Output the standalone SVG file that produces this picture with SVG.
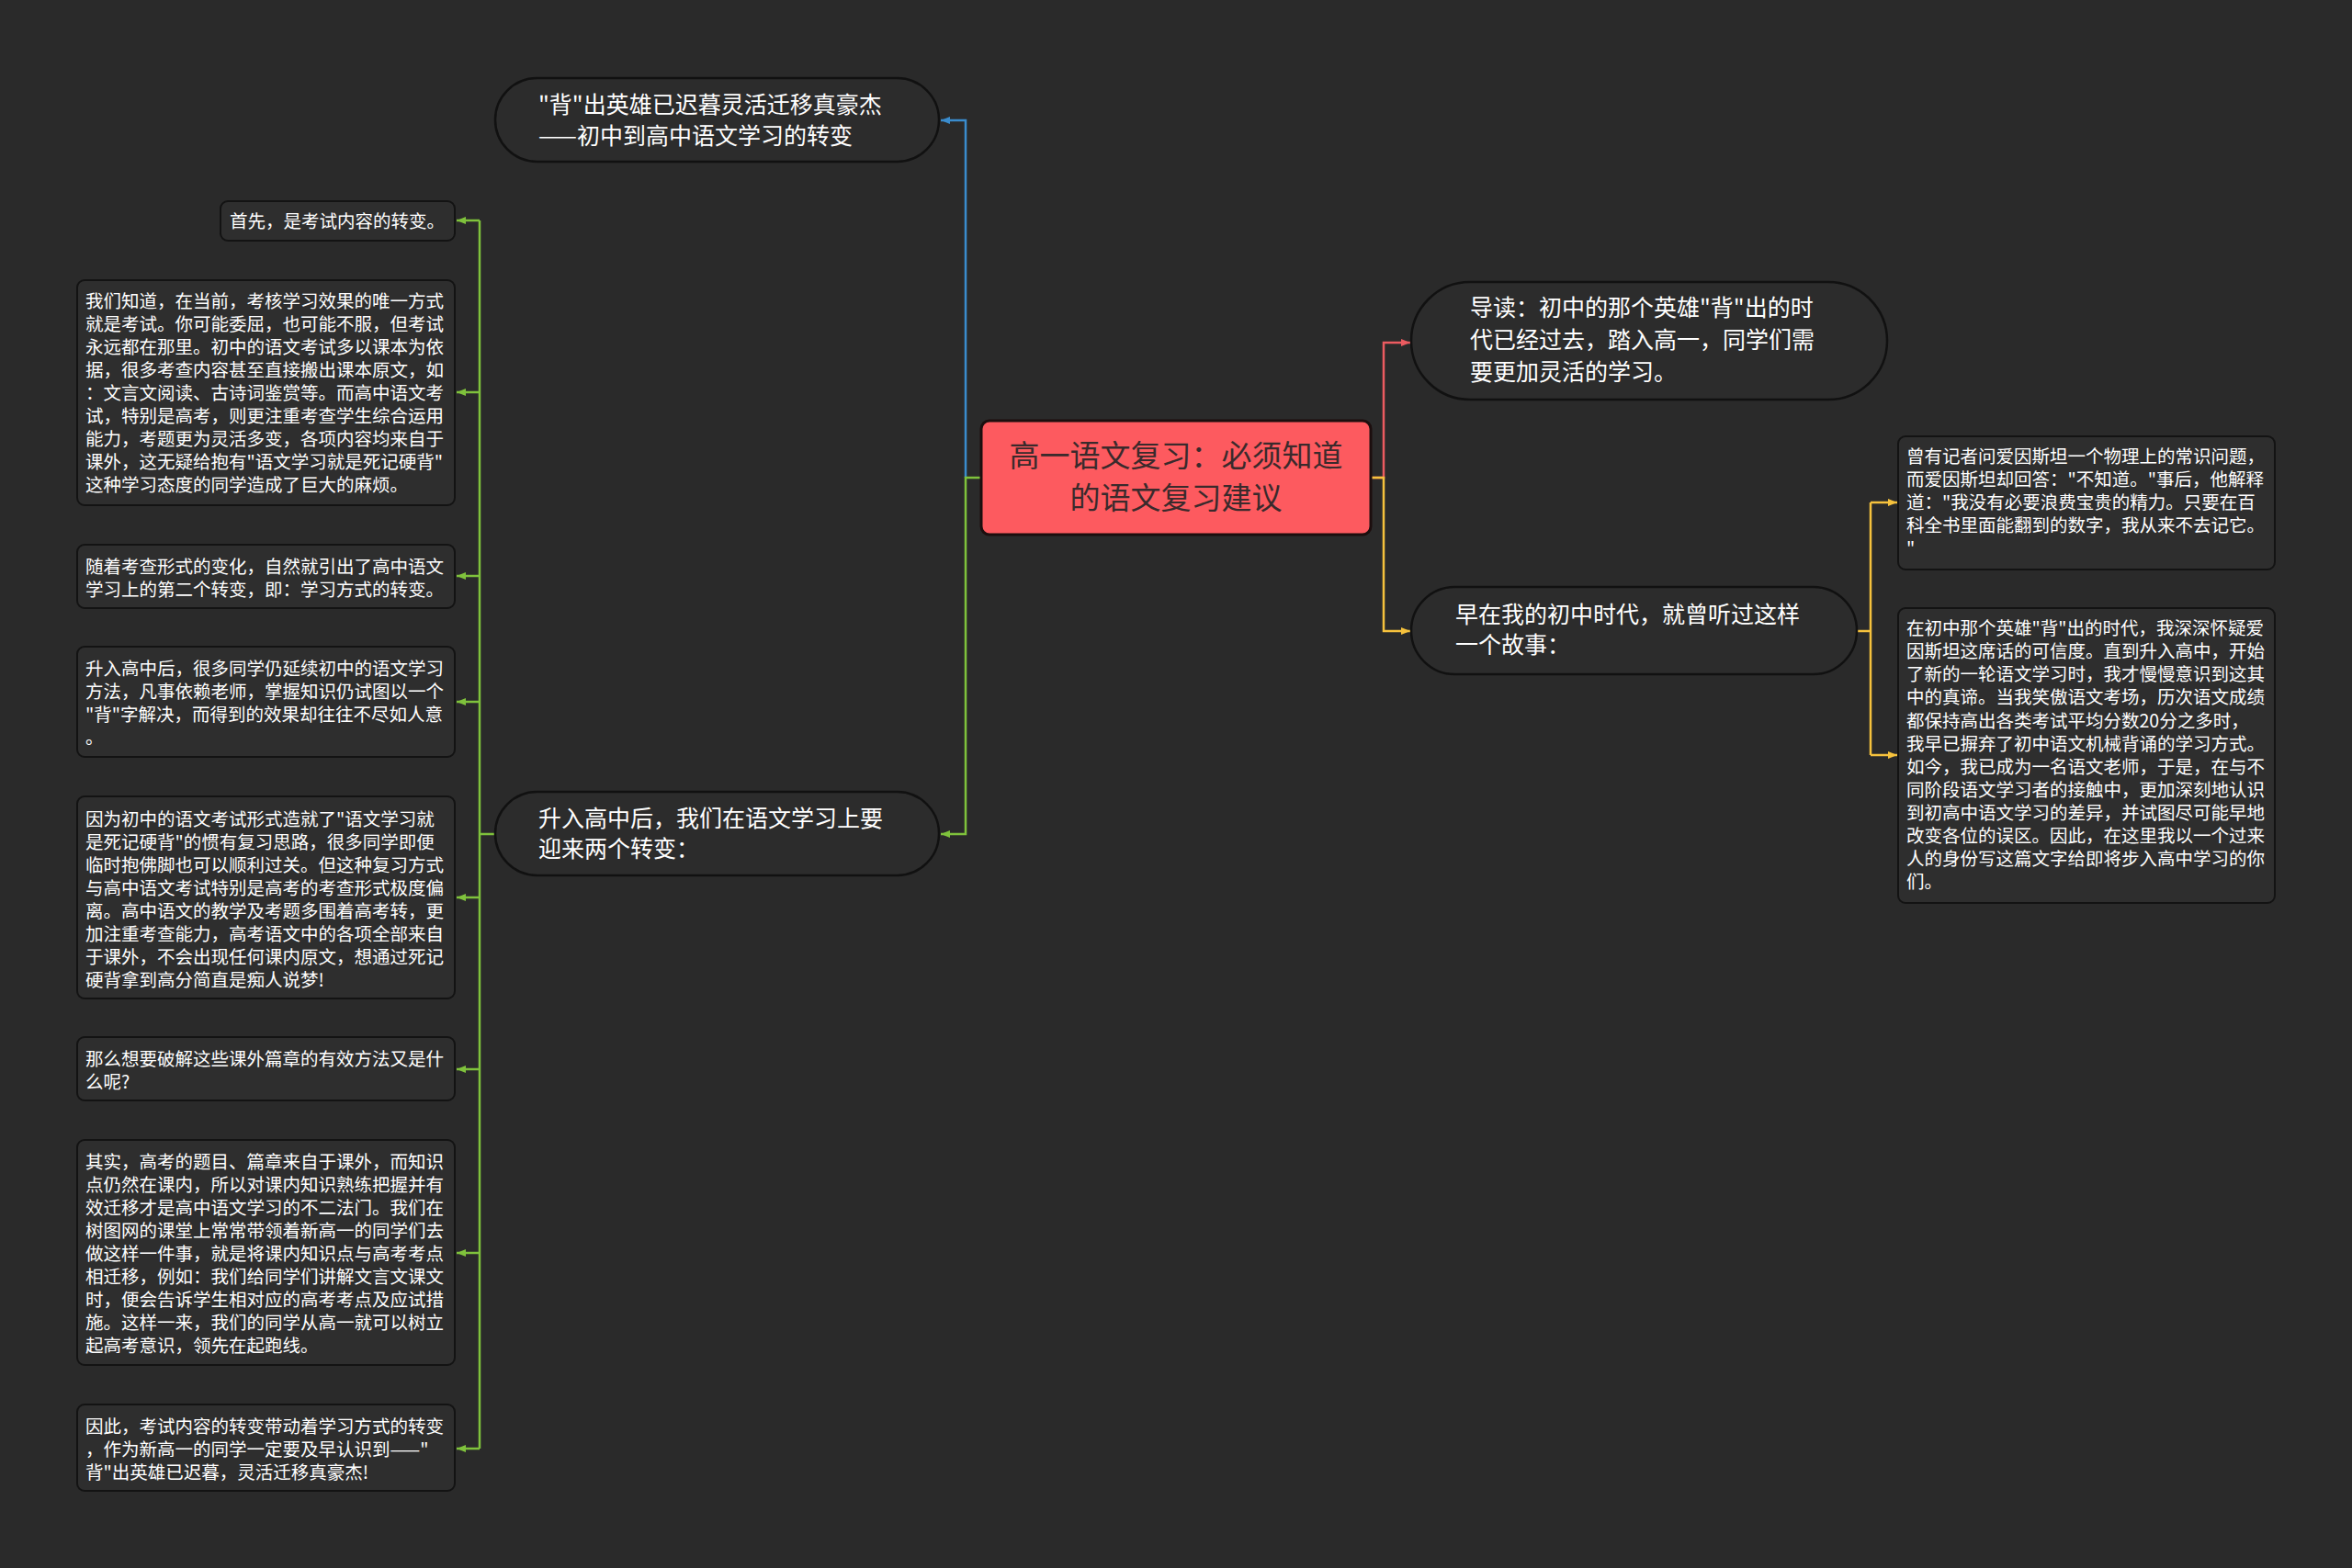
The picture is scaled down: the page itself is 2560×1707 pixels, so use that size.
<svg xmlns="http://www.w3.org/2000/svg" width="2560" height="1707" viewBox="0 0 2560 1707">
<defs>
<style>
.bg{fill:#2a2a2a}
.pill{fill:#2c2c2c;stroke:#111111;stroke-width:2.5}
.leaf{fill:#2e2e2e;stroke:#131313;stroke-width:2}
.center{fill:#fd5a5f;stroke:#1c0e0e;stroke-width:3}
.t{font-family:"Noto Sans CJK SC","Noto Sans",sans-serif;fill:#ffffff}
.tl{font-size:25px}
.ts{font-size:19.5px}
.tc{font-family:"Noto Sans CJK SC","Noto Sans",sans-serif;font-size:33px;fill:#3a2a2c;text-anchor:middle}
.c{fill:none;stroke-width:2.5}
.blue{stroke:#3a8ccd}
.green{stroke:#7fc23c}
.red{stroke:#ec5b60}
.yellow{stroke:#f6c23d}
</style>
<marker id="ab" viewBox="0 0 10 10" refX="10" refY="5" markerWidth="10" markerHeight="10" markerUnits="userSpaceOnUse" orient="auto"><path d="M0,1 L10,5 L0,9 Z" fill="#3a8ccd"/></marker>
<marker id="ag" viewBox="0 0 10 10" refX="10" refY="5" markerWidth="10" markerHeight="10" markerUnits="userSpaceOnUse" orient="auto"><path d="M0,1 L10,5 L0,9 Z" fill="#7fc23c"/></marker>
<marker id="ar" viewBox="0 0 10 10" refX="10" refY="5" markerWidth="10" markerHeight="10" markerUnits="userSpaceOnUse" orient="auto"><path d="M0,1 L10,5 L0,9 Z" fill="#ec5b60"/></marker>
<marker id="ay" viewBox="0 0 10 10" refX="10" refY="5" markerWidth="10" markerHeight="10" markerUnits="userSpaceOnUse" orient="auto"><path d="M0,1 L10,5 L0,9 Z" fill="#f6c23d"/></marker>
</defs>
<rect class="bg" x="0" y="0" width="2560" height="1707"/>

<g id="connectors">
<path class="c blue" d="M1051,520 V131 H1024" marker-end="url(#ab)"/>
<path class="c green" d="M1068,520 H1051 V908 H1024" marker-end="url(#ag)"/>
<path class="c green" d="M539,908 H522"/>
<path class="c green" d="M522,240 V1577"/>
<path class="c green" d="M522,240 H497" marker-end="url(#ag)"/>
<path class="c green" d="M522,427 H497" marker-end="url(#ag)"/>
<path class="c green" d="M522,627 H497" marker-end="url(#ag)"/>
<path class="c green" d="M522,764 H497" marker-end="url(#ag)"/>
<path class="c green" d="M522,977 H497" marker-end="url(#ag)"/>
<path class="c green" d="M522,1164 H497" marker-end="url(#ag)"/>
<path class="c green" d="M522,1364 H497" marker-end="url(#ag)"/>
<path class="c green" d="M522,1577 H497" marker-end="url(#ag)"/>
<path class="c red" d="M1492,520 H1506 V373 H1535" marker-end="url(#ar)"/>
<path class="c yellow" d="M1492,520 H1506 V687 H1535" marker-end="url(#ay)"/>
<path class="c yellow" d="M2021,687 H2036"/>
<path class="c yellow" d="M2036,547 V822"/>
<path class="c yellow" d="M2036,547 H2065" marker-end="url(#ay)"/>
<path class="c yellow" d="M2036,822 H2065" marker-end="url(#ay)"/>
</g>

<g id="node-center">
<rect class="center" x="1068" y="458" width="424" height="124" rx="9"/>
<text class="tc" x="1280"><tspan x="1280" y="508">高一语文复习：必须知道</tspan><tspan x="1280" y="554">的语文复习建议</tspan></text>
</g>

<g id="node-bei">
<rect class="pill" x="539" y="85" width="483" height="91" rx="45.5"/>
<text class="t tl"><tspan x="586" y="123">"背"出英雄已迟暮灵活迁移真豪杰</tspan><tspan x="586" y="157">——初中到高中语文学习的转变</tspan></text>
</g>

<g id="node-shengru">
<rect class="pill" x="539" y="862" width="483" height="91" rx="45.5"/>
<text class="t tl"><tspan x="586" y="900">升入高中后，我们在语文学习上要</tspan><tspan x="586" y="933">迎来两个转变：</tspan></text>
</g>

<g id="node-daodu">
<rect class="pill" x="1536" y="307" width="518" height="128" rx="64"/>
<text class="t tl"><tspan x="1600" y="344">导读：初中的那个英雄"背"出的时</tspan><tspan x="1600" y="379">代已经过去，踏入高一，同学们需</tspan><tspan x="1600" y="414">要更加灵活的学习。</tspan></text>
</g>

<g id="node-zaozai">
<rect class="pill" x="1536" y="639" width="485" height="95" rx="47.5"/>
<text class="t tl"><tspan x="1584" y="678">早在我的初中时代，就曾听过这样</tspan><tspan x="1584" y="711">一个故事：</tspan></text>
</g>

<g id="leaf-1">
<rect class="leaf" x="240" y="219" width="255" height="43" rx="8"/>
<text class="t ts"><tspan x="250" y="248">首先，是考试内容的转变。</tspan></text>
</g>

<g id="leaf-2">
<rect class="leaf" x="84" y="305" width="411" height="245" rx="8"/>
<text class="t ts">
<tspan x="93" y="335">我们知道，在当前，考核学习效果的唯一方式</tspan>
<tspan x="93" y="360">就是考试。你可能委屈，也可能不服，但考试</tspan>
<tspan x="93" y="385">永远都在那里。初中的语文考试多以课本为依</tspan>
<tspan x="93" y="410">据，很多考查内容甚至直接搬出课本原文，如</tspan>
<tspan x="93" y="435">：文言文阅读、古诗词鉴赏等。而高中语文考</tspan>
<tspan x="93" y="460">试，特别是高考，则更注重考查学生综合运用</tspan>
<tspan x="93" y="485">能力，考题更为灵活多变，各项内容均来自于</tspan>
<tspan x="93" y="510">课外，这无疑给抱有"语文学习就是死记硬背"</tspan>
<tspan x="93" y="535">这种学习态度的同学造成了巨大的麻烦。</tspan>
</text>
</g>

<g id="leaf-3">
<rect class="leaf" x="84" y="593" width="411" height="69" rx="8"/>
<text class="t ts">
<tspan x="93" y="624">随着考查形式的变化，自然就引出了高中语文</tspan>
<tspan x="93" y="649">学习上的第二个转变，即：学习方式的转变。</tspan>
</text>
</g>

<g id="leaf-4">
<rect class="leaf" x="84" y="704" width="411" height="120" rx="8"/>
<text class="t ts">
<tspan x="93" y="735">升入高中后，很多同学仍延续初中的语文学习</tspan>
<tspan x="93" y="760">方法，凡事依赖老师，掌握知识仍试图以一个</tspan>
<tspan x="93" y="785">"背"字解决，而得到的效果却往往不尽如人意</tspan>
<tspan x="93" y="810">。</tspan>
</text>
</g>

<g id="leaf-5">
<rect class="leaf" x="84" y="867" width="411" height="220" rx="8"/>
<text class="t ts">
<tspan x="93" y="899">因为初中的语文考试形式造就了"语文学习就</tspan>
<tspan x="93" y="924">是死记硬背"的惯有复习思路，很多同学即便</tspan>
<tspan x="93" y="949">临时抱佛脚也可以顺利过关。但这种复习方式</tspan>
<tspan x="93" y="974">与高中语文考试特别是高考的考查形式极度偏</tspan>
<tspan x="93" y="999">离。高中语文的教学及考题多围着高考转，更</tspan>
<tspan x="93" y="1024">加注重考查能力，高考语文中的各项全部来自</tspan>
<tspan x="93" y="1049">于课外，不会出现任何课内原文，想通过死记</tspan>
<tspan x="93" y="1074">硬背拿到高分简直是痴人说梦!</tspan>
</text>
</g>

<g id="leaf-6">
<rect class="leaf" x="84" y="1129" width="411" height="69" rx="8"/>
<text class="t ts">
<tspan x="93" y="1160">那么想要破解这些课外篇章的有效方法又是什</tspan>
<tspan x="93" y="1185">么呢?</tspan>
</text>
</g>

<g id="leaf-7">
<rect class="leaf" x="84" y="1241" width="411" height="245" rx="8"/>
<text class="t ts">
<tspan x="93" y="1272">其实，高考的题目、篇章来自于课外，而知识</tspan>
<tspan x="93" y="1297">点仍然在课内，所以对课内知识熟练把握并有</tspan>
<tspan x="93" y="1322">效迁移才是高中语文学习的不二法门。我们在</tspan>
<tspan x="93" y="1347">树图网的课堂上常常带领着新高一的同学们去</tspan>
<tspan x="93" y="1372">做这样一件事，就是将课内知识点与高考考点</tspan>
<tspan x="93" y="1397">相迁移，例如：我们给同学们讲解文言文课文</tspan>
<tspan x="93" y="1422">时，便会告诉学生相对应的高考考点及应试措</tspan>
<tspan x="93" y="1447">施。这样一来，我们的同学从高一就可以树立</tspan>
<tspan x="93" y="1472">起高考意识，领先在起跑线。</tspan>
</text>
</g>

<g id="leaf-8">
<rect class="leaf" x="84" y="1529" width="411" height="94" rx="8"/>
<text class="t ts">
<tspan x="93" y="1560">因此，考试内容的转变带动着学习方式的转变</tspan>
<tspan x="93" y="1585">，作为新高一的同学一定要及早认识到——"</tspan>
<tspan x="93" y="1610">背"出英雄已迟暮，灵活迁移真豪杰!</tspan>
</text>
</g>

<g id="leaf-r1">
<rect class="leaf" x="2066" y="475" width="410" height="145" rx="8"/>
<text class="t ts">
<tspan x="2075" y="504">曾有记者问爱因斯坦一个物理上的常识问题，</tspan>
<tspan x="2075" y="529">而爱因斯坦却回答："不知道。"事后，他解释</tspan>
<tspan x="2075" y="554">道："我没有必要浪费宝贵的精力。只要在百</tspan>
<tspan x="2075" y="579">科全书里面能翻到的数字，我从来不去记它。</tspan>
<tspan x="2075" y="604">"</tspan>
</text>
</g>

<g id="leaf-r2">
<rect class="leaf" x="2066" y="662" width="410" height="321" rx="8"/>
<text class="t ts">
<tspan x="2075" y="691">在初中那个英雄"背"出的时代，我深深怀疑爱</tspan>
<tspan x="2075" y="716">因斯坦这席话的可信度。直到升入高中，开始</tspan>
<tspan x="2075" y="741">了新的一轮语文学习时，我才慢慢意识到这其</tspan>
<tspan x="2075" y="766">中的真谛。当我笑傲语文考场，历次语文成绩</tspan>
<tspan x="2075" y="792">都保持高出各类考试平均分数20分之多时，</tspan>
<tspan x="2075" y="817">我早已摒弃了初中语文机械背诵的学习方式。</tspan>
<tspan x="2075" y="842">如今，我已成为一名语文老师，于是，在与不</tspan>
<tspan x="2075" y="867">同阶段语文学习者的接触中，更加深刻地认识</tspan>
<tspan x="2075" y="892">到初高中语文学习的差异，并试图尽可能早地</tspan>
<tspan x="2075" y="917">改变各位的误区。因此，在这里我以一个过来</tspan>
<tspan x="2075" y="942">人的身份写这篇文字给即将步入高中学习的你</tspan>
<tspan x="2075" y="967">们。</tspan>
</text>
</g>
</svg>
